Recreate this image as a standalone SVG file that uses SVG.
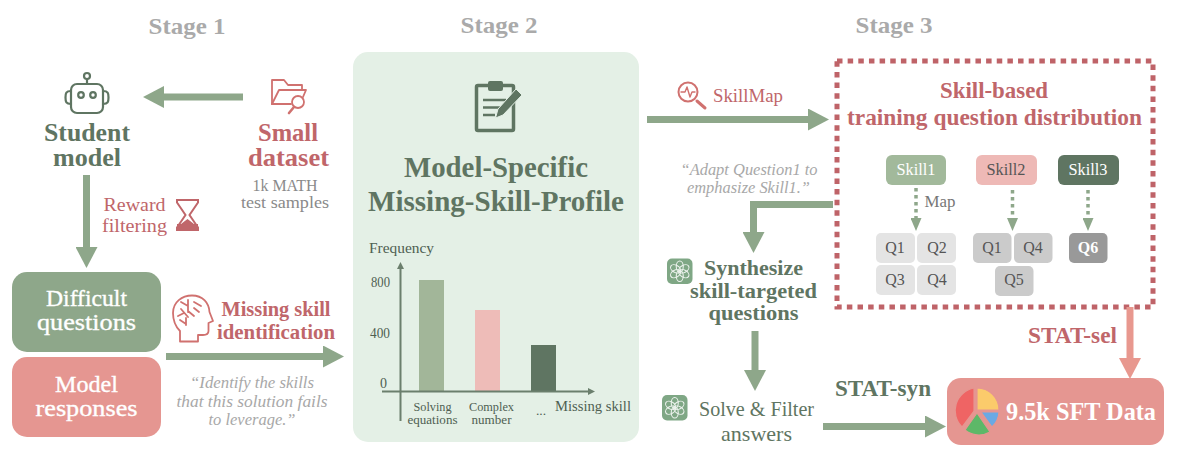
<svg xmlns="http://www.w3.org/2000/svg" width="1200" height="465" viewBox="0 0 1200 465">
<style>
text{font-family:"Liberation Serif","DejaVu Serif",serif;text-anchor:middle}
.b{font-weight:700}
.stage{font-size:23px;font-weight:700;fill:#aaaaaa}
.dg{fill:#5f7562}
.rd{fill:#c0666a}
.w{fill:#ffffff}
.gy{fill:#8a8a8a}
.q{font-size:17px;font-style:italic;fill:#a8a8a8}
.m{font-size:25px}
.n{font-size:23.500px;stroke:#ffffff;stroke-width:.35}
.tick{font-size:14px;fill:#4f5f52}
.cat{font-size:13.500px;fill:#4f5f52}
.sk{font-size:17px}
.qq{font-size:16px;fill:#555555}
.ic{fill:none;stroke:#d0716f;stroke-width:1.8;stroke-linecap:round;stroke-linejoin:round}
.gic{fill:none;stroke:#5f7562;stroke-width:2.2;stroke-linecap:round;stroke-linejoin:round}
.ar{fill:none;stroke:#8ea78a;stroke-width:7}
.dot{fill:none;stroke:#8ea78a;stroke-width:3.500;stroke-dasharray:3.500 3.500}
.knot{fill:none;stroke:#ffffff;stroke-width:1.100;opacity:.85}
</style>
<defs>
<marker id="h" markerUnits="userSpaceOnUse" markerWidth="21" markerHeight="22" refX="0" refY="11" orient="auto" viewBox="0 0 21 22"><path d="M0 0L21 11L0 22Z" fill="#8ea78a"/></marker>
<marker id="hp" markerUnits="userSpaceOnUse" markerWidth="21" markerHeight="22" refX="0" refY="11" orient="auto" viewBox="0 0 21 22"><path d="M0 0L21 11L0 22Z" fill="#e8988f"/></marker>
<marker id="hs" markerUnits="userSpaceOnUse" markerWidth="13" markerHeight="11" refX="0" refY="5.500" orient="auto" viewBox="0 0 13 11"><path d="M0 0L13 5.500L0 11Z" fill="#8ea78a"/></marker>
<marker id="ax" markerUnits="userSpaceOnUse" markerWidth="7" markerHeight="7" refX="0" refY="3.500" orient="auto" viewBox="0 0 7 7"><path d="M0 0L7 3.500L0 7Z" fill="#6b7f6d"/></marker>
<g id="gpt"><rect x="0" y="0" width="25.500" height="25.500" rx="5" fill="#7fa785"/><g class="knot"><ellipse cx="12.750" cy="8" rx="3.500" ry="5.500"/><ellipse cx="12.750" cy="8" rx="3.500" ry="5.500" transform="rotate(60 12.750 12.750)"/><ellipse cx="12.750" cy="8" rx="3.500" ry="5.500" transform="rotate(120 12.750 12.750)"/><ellipse cx="12.750" cy="8" rx="3.500" ry="5.500" transform="rotate(180 12.750 12.750)"/><ellipse cx="12.750" cy="8" rx="3.500" ry="5.500" transform="rotate(240 12.750 12.750)"/><ellipse cx="12.750" cy="8" rx="3.500" ry="5.500" transform="rotate(300 12.750 12.750)"/></g></g>
</defs>
<rect width="1200" height="465" fill="#ffffff"/>

<g id="stage-labels">
<text class="stage" x="187" y="34" textLength="77" lengthAdjust="spacingAndGlyphs">Stage 1</text>
<text class="stage" x="499" y="33" textLength="77" lengthAdjust="spacingAndGlyphs">Stage 2</text>
<text class="stage" x="894" y="33" textLength="77" lengthAdjust="spacingAndGlyphs">Stage 3</text>
</g>

<g id="student-model">
<g class="gic"><circle cx="87" cy="76" r="3"/><path d="M87 79V84"/><rect x="71" y="84" width="32" height="29" rx="6"/><circle cx="81" cy="95" r="2.800"/><circle cx="93" cy="95" r="2.800"/><path d="M71 91C66 91 65.500 93 65.500 97.500C65.500 102 66 104 71 104"/><path d="M103 91C108 91 108.500 93 108.500 97.500C108.500 102 108 104 103 104"/></g>
<text class="b m dg" x="87" y="141" textLength="86" lengthAdjust="spacingAndGlyphs">Student</text>
<text class="b m dg" x="87" y="166" textLength="68" lengthAdjust="spacingAndGlyphs">model</text>
</g>

<g id="small-dataset">
<g class="ic"><path d="M272 104V80H284L288 85H302V90"/><path d="M272 104L279 90H306L303 97"/><path d="M272 104H291"/><circle cx="298" cy="102" r="6"/><path d="M294 107L289 113" stroke-width="2.600"/></g>
<text class="b m rd" x="288" y="141" textLength="60" lengthAdjust="spacingAndGlyphs">Small</text>
<text class="b m rd" x="288.500" y="166" textLength="81" lengthAdjust="spacingAndGlyphs">dataset</text>
<text class="gy" font-size="16.500" x="285" y="191" textLength="65" lengthAdjust="spacingAndGlyphs">1k MATH</text>
<text class="gy" font-size="16.500" x="285" y="208" textLength="88" lengthAdjust="spacingAndGlyphs">test samples</text>
</g>

<g id="reward-filtering">
<text class="rd" font-size="18" x="134.500" y="211" textLength="62" lengthAdjust="spacingAndGlyphs">Reward</text>
<text class="rd" font-size="18" x="134.500" y="232" textLength="65" lengthAdjust="spacingAndGlyphs">filtering</text>
<path d="M177 200H198V202.500L189.500 215L198 227.500V230H177V227.500L185.500 215L177 202.500Z" fill="none" stroke="#c0666a" stroke-width="2"/>
<path d="M187.500 219L181 224H194ZM177 224H198V230H177Z" fill="#c0666a"/>
</g>

<g id="difficult-questions">
<rect x="12" y="272" width="149" height="80" rx="15" fill="#8ea78a"/>
<text class="n w" x="86.500" y="305.500" textLength="81" lengthAdjust="spacingAndGlyphs">Difficult</text>
<text class="n w" x="86.500" y="329.500" textLength="99" lengthAdjust="spacingAndGlyphs">questions</text>
</g>

<g id="model-responses">
<rect x="12" y="357" width="149" height="80" rx="15" fill="#e59691"/>
<text class="n w" x="86.500" y="391.500" textLength="63" lengthAdjust="spacingAndGlyphs">Model</text>
<text class="n w" x="86.500" y="415.500" textLength="102" lengthAdjust="spacingAndGlyphs">responses</text>
</g>

<g id="missing-skill-identification">
<g class="ic"><path d="M180 341.500V331C175 326 173 320 173 313C173 302 182 295.500 192 295.500C203 295.500 209 303 209.500 312L213 321L208.500 323V331C208.500 334 206 335 203 335H198V341.500Z"/><path d="M188 300V312M188 306L181 302M188 311L194 316M181 309L188 317M184 313L178 316M194 302L201 306M194 308L199 312M186 318V325M180 320L186 324"/></g>
<text class="b rd" font-size="20" x="276" y="316" textLength="109" lengthAdjust="spacingAndGlyphs">Missing skill</text>
<text class="b rd" font-size="20" x="276" y="339" textLength="118" lengthAdjust="spacingAndGlyphs">identification</text>
<text class="q" x="252" y="388" textLength="124" lengthAdjust="spacingAndGlyphs">“Identify the skills</text>
<text class="q" x="252" y="407" textLength="151" lengthAdjust="spacingAndGlyphs">that this solution fails</text>
<text class="q" x="252" y="425" textLength="87" lengthAdjust="spacingAndGlyphs">to leverage.”</text>
</g>

<g id="missing-skill-profile">
<rect x="353" y="52" width="286" height="390" rx="15" fill="#e4f0e6"/>
<rect x="476.500" y="85.500" width="37" height="45" rx="1.500" fill="none" stroke="#5f7562" stroke-width="3.500"/>
<rect x="488" y="81" width="15" height="10" rx="2" fill="#5f7562"/>
<path d="M483 100H506M483 107.500H500M483 115H495" fill="none" stroke="#5f7562" stroke-width="2.500"/>
<path d="M495.500 118L498 109L516 89L522 95L503 115Z" fill="#5f7562" stroke="#e4f0e6" stroke-width="1"/>
<text class="b dg" font-size="29" x="496" y="177" textLength="184" lengthAdjust="spacingAndGlyphs">Model-Specific</text>
<text class="b dg" font-size="29" x="496" y="211" textLength="256" lengthAdjust="spacingAndGlyphs">Missing-Skill-Profile</text>
<text class="tick" font-size="15" x="401.500" y="253" textLength="65" lengthAdjust="spacingAndGlyphs">Frequency</text>
<rect x="419" y="280" width="25" height="111" fill="#a2b699"/>
<rect x="475" y="310" width="25" height="81" fill="#eebcb8"/>
<rect x="531" y="345" width="25" height="46" fill="#5f7562"/>
<path d="M400.500 421V269" fill="none" stroke="#6b7f6d" stroke-width="2" marker-end="url(#ax)"/>
<path d="M382 391.500H588" fill="none" stroke="#6b7f6d" stroke-width="2" marker-end="url(#ax)"/>
<text class="tick" x="380.500" y="287" textLength="19" lengthAdjust="spacingAndGlyphs">800</text>
<text class="tick" x="380" y="338" textLength="20" lengthAdjust="spacingAndGlyphs">400</text>
<text class="tick" x="383.500" y="388">0</text>
<text class="cat" x="432.500" y="411" textLength="38" lengthAdjust="spacingAndGlyphs">Solving</text>
<text class="cat" x="432.500" y="424" textLength="50" lengthAdjust="spacingAndGlyphs">equations</text>
<text class="cat" x="491.500" y="411" textLength="45" lengthAdjust="spacingAndGlyphs">Complex</text>
<text class="cat" x="491.500" y="424" textLength="40" lengthAdjust="spacingAndGlyphs">number</text>
<text class="cat" x="541" y="415">...</text>
<text class="tick" font-size="15" x="593" y="411" textLength="76" lengthAdjust="spacingAndGlyphs">Missing skill</text>
</g>

<g id="skillmap">
<g class="ic"><circle cx="688" cy="92" r="9.500" stroke-width="2"/><path d="M697 101L705 108" stroke-width="3"/><path d="M681 92H685L687 87L690 97L692 92H695" stroke-width="1.400"/></g>
<text class="rd" font-size="19" x="748" y="102" textLength="70" lengthAdjust="spacingAndGlyphs">SkillMap</text>
</g>
<g id="adapt-prompt">
<text class="q" x="749" y="175" textLength="137" lengthAdjust="spacingAndGlyphs">“Adapt Question1 to</text>
<text class="q" x="748.500" y="193" textLength="123" lengthAdjust="spacingAndGlyphs">emphasize Skill1.”</text>
</g>

<g id="skill-distribution">
<rect x="837" y="61" width="316" height="246" fill="none" stroke="#bf6368" stroke-width="5" stroke-dasharray="5.500 5.150"/>
<text class="b rd" font-size="22.500" x="994" y="98" textLength="108" lengthAdjust="spacingAndGlyphs">Skill-based</text>
<text class="b rd" font-size="22.500" x="994.500" y="125" textLength="295" lengthAdjust="spacingAndGlyphs">training question distribution</text>
<rect x="886" y="155" width="60" height="30" rx="6" fill="#a2b99b"/>
<text class="sk w" x="916" y="175" textLength="39" lengthAdjust="spacingAndGlyphs">Skill1</text>
<rect x="976" y="155" width="61" height="30" rx="6" fill="#eeb9b6"/>
<text class="sk" fill="#555555" x="1006" y="175" textLength="39" lengthAdjust="spacingAndGlyphs">Skill2</text>
<rect x="1058" y="155" width="61" height="30" rx="6" fill="#5f7562"/>
<text class="sk w" x="1088" y="175" textLength="39" lengthAdjust="spacingAndGlyphs">Skill3</text>
<text fill="#777777" font-size="17" x="940" y="207" textLength="31" lengthAdjust="spacingAndGlyphs">Map</text>
<g fill="#e4e4e4">
<rect x="876" y="233" width="39" height="30" rx="5"/><rect x="917" y="233" width="39" height="30" rx="5"/>
<rect x="876" y="265" width="39" height="30" rx="5"/><rect x="917" y="265" width="39" height="30" rx="5"/>
</g>
<g fill="#cbcbcb">
<rect x="973" y="233" width="38.500" height="30" rx="5"/><rect x="1014" y="233" width="38.500" height="30" rx="5"/>
<rect x="995" y="266" width="38.500" height="30" rx="5"/>
</g>
<rect x="1069" y="233" width="38.500" height="30" rx="5" fill="#999999"/>
<text class="qq" x="895" y="253">Q1</text><text class="qq" x="937" y="253">Q2</text>
<text class="qq" x="895" y="285">Q3</text><text class="qq" x="937" y="285">Q4</text>
<text class="qq" x="992" y="253">Q1</text><text class="qq" x="1033" y="253">Q4</text>
<text class="qq" x="1014" y="285">Q5</text>
<text class="qq b" style="fill:#ffffff" x="1088" y="253">Q6</text>
</g>

<g id="synthesize">
<use href="#gpt" x="667" y="258.500"/>
<text class="b dg" font-size="21" x="753.500" y="275" textLength="99" lengthAdjust="spacingAndGlyphs">Synthesize</text>
<text class="b dg" font-size="20.500" x="753.500" y="297.500" textLength="127" lengthAdjust="spacingAndGlyphs">skill-targeted</text>
<text class="b dg" font-size="20.500" x="753.500" y="320" textLength="90" lengthAdjust="spacingAndGlyphs">questions</text>
</g>

<g id="solve-filter">
<use href="#gpt" x="662" y="395"/>
<text class="dg" font-size="21" x="756.500" y="416" textLength="115" lengthAdjust="spacingAndGlyphs">Solve &amp; Filter</text>
<text class="dg" font-size="21" x="756.500" y="441" textLength="71" lengthAdjust="spacingAndGlyphs">answers</text>
</g>

<g id="stat-labels">
<text class="b dg" font-size="23" x="883" y="396" textLength="96" lengthAdjust="spacingAndGlyphs">STAT-syn</text>
<text class="b rd" font-size="23" x="1072.500" y="343" textLength="89" lengthAdjust="spacingAndGlyphs">STAT-sel</text>
</g>

<g id="sft-data">
<rect x="947" y="378" width="217" height="67" rx="14" fill="#e59691"/>
<g stroke="#e59691" stroke-width="1.200">
<path d="M977 410V388A22 22 0 0 1 999 410Z" fill="#fbcb6b"/>
<path d="M981 412H999A22 22 0 0 1 992 427Z" fill="#6aa9e4"/>
<path d="M977 413L990 432A22 22 0 0 1 965 430Z" fill="#5db868"/>
<path d="M974 388A23 23 0 0 0 962 427L974 411Z" fill="#ef6464"/>
</g>
<text class="b w" font-size="25" x="1081" y="420" textLength="150" lengthAdjust="spacingAndGlyphs">9.5k SFT Data</text>
</g>

<g id="connectors">
<path class="ar" d="M243 97H164" marker-end="url(#h)"/>
<path class="ar" d="M86.500 175V247" marker-end="url(#h)"/>
<path class="ar" d="M166 356.500H323" marker-end="url(#h)"/>
<path class="ar" d="M647 119.500H808" marker-end="url(#h)"/>
<path class="ar" d="M833 204.500H753.500V232" marker-end="url(#h)"/>
<path class="ar" d="M755 331V370" marker-end="url(#h)"/>
<path class="ar" d="M823 426.500H925" marker-end="url(#h)"/>
<path d="M1130 307V358" fill="none" stroke="#e8988f" stroke-width="7" marker-end="url(#hp)"/>
<path class="dot" d="M916 188V218" marker-end="url(#hs)"/>
<path class="dot" d="M1012.500 190V218" marker-end="url(#hs)"/>
<path class="dot" d="M1088 190V218" marker-end="url(#hs)"/>
</g>
</svg>
